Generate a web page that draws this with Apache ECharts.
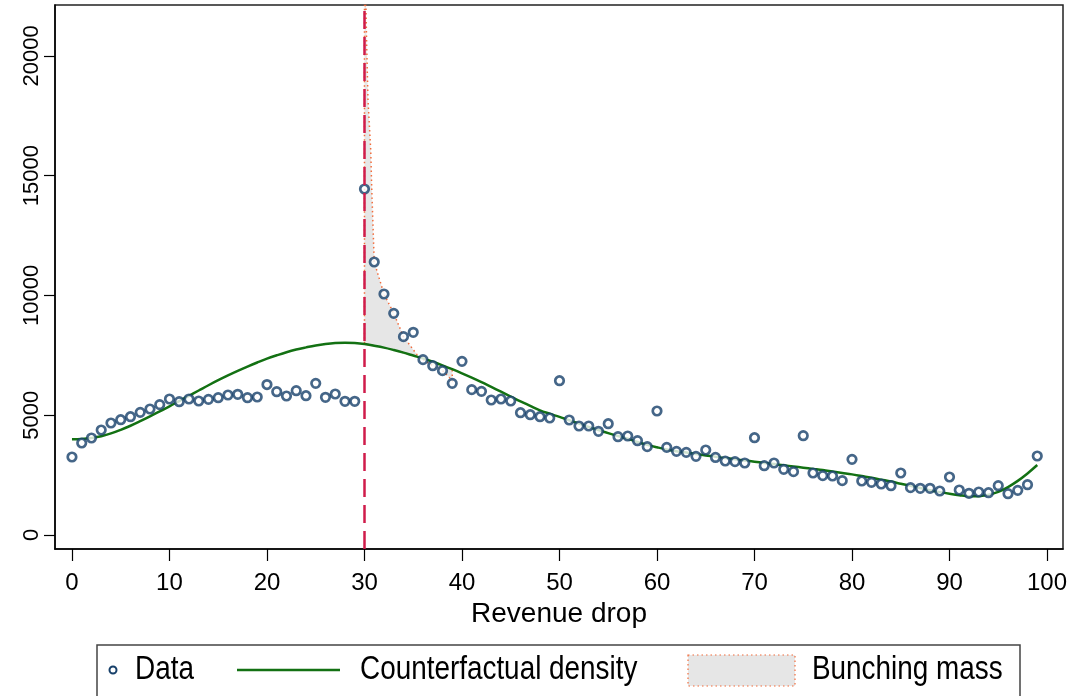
<!DOCTYPE html>
<html>
<head>
<meta charset="utf-8">
<script src="https://cdn.jsdelivr.net/npm/echarts@6/dist/echarts.min.js"></script>
<style>
html,body{margin:0;padding:0;background:#fff;}
#chart{width:1075px;height:696px;}
</style>
</head>
<body>
<div id="chart"></div>
<script>
// ---- data ----
const bins = [0,1,2,3,4,5,6,7,8,9,10,11,12,13,14,15,16,17,18,19,20,21,22,23,24,25,26,27,28,29,
  30,31,32,33,34,35,36,37,38,39,40,41,42,43,44,45,46,47,48,49,50,51,52,53,54,55,56,57,58,59,
  60,61,62,63,64,65,66,67,68,69,70,71,72,73,74,75,76,77,78,79,80,81,82,83,84,85,86,87,88,89,
  90,91,92,93,94,95,96,97,98,99];
const dataValues = [3255,3840,4048,4382,4674,4813,4938,5119,5259,5440,
  5676,5565,5676,5593,5662,5732,5843,5871,5732,5760,
  6280,5982,5801,6024,5815,6330,5746,5885,5579,5579,
  14441,11394,10058,9251,8278,8459,7318,7067,6860,6330,
  7248,6066,5996,5634,5676,5593,5105,5022,4938,4883,
  6440,4800,4549,4549,4327,4646,4104,4132,3937,3687,
  5175,3659,3492,3450,3283,3548,3238,3088,3061,3005,
  4062,2894,3005,2741,2644,4146,2588,2477,2463,2268,
  3158,2254,2198,2129,2059,2588,1976,1948,1948,1836,
  2421,1878,1740,1795,1766,2059,1725,1864,2101,3297];
const counterfactual = [4000,4010,4050,4120,4240,4390,4560,4750,4950,5160,
  5370,5590,5810,6030,6250,6460,6660,6850,7030,7200,
  7360,7500,7630,7740,7830,7910,7970,8010,8025,8010,
  7970,7900,7820,7720,7610,7490,7370,7230,7080,6920,
  6750,6570,6380,6180,5980,5780,5580,5390,5200,5060,
  4930,4790,4650,4510,4380,4250,4130,4020,3880,3760,
  3660,3570,3500,3440,3380,3320,3270,3210,3160,3110,
  3060,3010,2960,2910,2860,2810,2760,2710,2650,2590,
  2530,2460,2390,2310,2230,2140,2050,1960,1870,1790,
  1720,1660,1620,1620,1680,1800,2000,2260,2570,2920];
// upper edge of the bunching-mass area (left to right)
const bunchTopX = [30,30.15,30.22,30.36,30.64,30.74,30.9,31,32,33,34,35.4,36,37,38,39];
const bunchTopY = [22100,22100,20530,18150,16070,14520,12600,11394,10058,9251,8278,7520,7318,7067,6860,6450];
// lower edge: counterfactual over these bins
const bunchBinsLow = [39,38,37,36,35,34,33,32,31,30];
const cutoff = 30;
const xTicks = [0,10,20,30,40,50,60,70,80,90,100];
const yTicks = [0,5000,10000,15000,20000];

const FONT = "'Liberation Sans',Arial,sans-serif";
const navy = '#17406a', green = '#137113', red = '#d01c4b', orange = '#f26b3a';

const chart = echarts.init(document.getElementById('chart'), null, {renderer:'canvas'});

const scatterData = bins.map((b,i)=>[b, dataValues[i]]);
const cfData = bins.map((b,i)=>[b, counterfactual[i]]);

const legendText = (txt, x) => ({type:'text', x:x, y:670, scaleX:0.82, z:11,
  style:{text:txt, fontFamily:FONT, fontSize:34, fill:'#000', textVerticalAlign:'middle', textAlign:'left'}});

const option = {
  animation: false,
  backgroundColor: '#fff',
  grid: {left:55, right:12, top:5, bottom:147, show:true, borderColor:'#222', borderWidth:1.5, backgroundColor:'#fff'},
  xAxis: {
    type:'value', min:-1.74, max:101.64,
    name:'Revenue drop', nameLocation:'middle', nameGap:47,
    nameTextStyle:{fontFamily:FONT, fontSize:28, color:'#000'},
    axisLine:{show:true, onZero:false, lineStyle:{color:'#000', width:1.5}},
    axisTick:{show:true, length:12, lineStyle:{color:'#000', width:1.2}, customValues:xTicks},
    axisLabel:{fontFamily:FONT, fontSize:24, color:'#000', margin:22, customValues:xTicks,
      formatter: v => String(v)},
    splitLine:{show:false}
  },
  yAxis: {
    type:'value', min:-584, max:22120,
    axisLine:{show:true, onZero:false, lineStyle:{color:'#000', width:1.5}},
    axisTick:{show:true, length:11, lineStyle:{color:'#000', width:1.2}, customValues:yTicks},
    axisLabel:{fontFamily:FONT, fontSize:22, color:'#000', rotate:90, margin:12, customValues:yTicks,
      formatter: v => String(v)},
    splitLine:{show:false}
  },
  series: [
    {
      name:'Bunching mass', type:'custom', data:[0], z:1, silent:true,
      renderItem: function(params, api){
        const pts = [];
        for (let k=0;k<bunchTopX.length;k++) pts.push(api.coord([bunchTopX[k], bunchTopY[k]]));
        for (let k=0;k<bunchBinsLow.length;k++){ const b = bunchBinsLow[k]; pts.push(api.coord([b, counterfactual[b]])); }
        return {type:'polygon', shape:{points:pts},
          style:{fill:'#e6e6e6', stroke:orange, lineWidth:1.5, lineDash:[1.5,3]}};
      }
    },
    {
      name:'Counterfactual density', type:'line', data:cfData, smooth:0.4, showSymbol:false, z:3,
      lineStyle:{color:green, width:2.5}
    },
    {
      name:'Data', type:'scatter', data:scatterData, symbol:'circle', symbolSize:8.5, z:4,
      itemStyle:{color:'#fff', borderColor:navy, borderWidth:2.7},
      markLine:{symbol:'none', silent:true, label:{show:false}, z:5,
        lineStyle:{color:red, width:2.5, type:[18,8]},
        data:[{xAxis:cutoff}]}
    }
  ],
  graphic: [
    {type:'rect', shape:{x:97, y:645, width:923, height:60}, style:{fill:'#fff', stroke:'#444', lineWidth:1.5}, z:10},
    {type:'circle', shape:{cx:113, cy:670, r:3.5}, style:{fill:'#fff', stroke:navy, lineWidth:2}, z:11},
    legendText('Data', 135),
    {type:'line', shape:{x1:237, y1:670, x2:340, y2:670}, style:{stroke:green, lineWidth:2.5}, z:11},
    legendText('Counterfactual density', 360),
    {type:'rect', shape:{x:688, y:655, width:107, height:31}, style:{fill:'#e6e6e6', stroke:orange, lineWidth:1.2, lineDash:[1.5,3]}, z:11},
    legendText('Bunching mass', 812)
  ]
};
chart.setOption(option);
</script>
</body>
</html>
